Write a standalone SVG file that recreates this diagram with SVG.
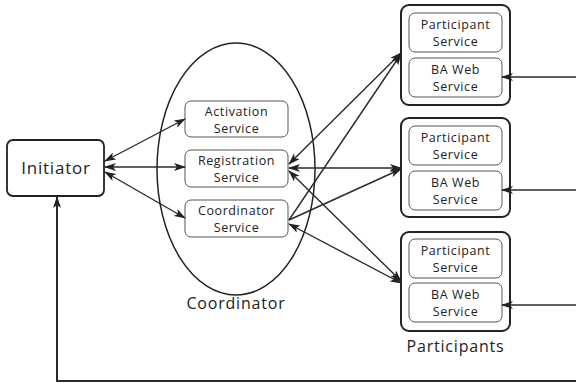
<svg xmlns="http://www.w3.org/2000/svg" width="576" height="387" viewBox="0 0 576 387">
<style>
text{font-family:"Open Sans","Liberation Sans",sans-serif;fill:#222;text-anchor:middle}
.big{font-size:16px;letter-spacing:0.8px}
.sm{font-size:12.5px;letter-spacing:0.6px}
.outer{fill:#fff;stroke:#222;stroke-width:2}
.inner{fill:#fff;stroke:#555;stroke-width:1}
.ln{fill:none;stroke:#2a2a2a;stroke-width:1.4}
</style>
<defs>
<marker id="ah" viewBox="0 0 12 8" refX="11" refY="4" markerWidth="12" markerHeight="8" markerUnits="userSpaceOnUse" orient="auto-start-reverse">
<path d="M0,0 L12,4 L0,8 L3,4 z" fill="#222"/>
</marker>
</defs>
<rect width="576" height="387" fill="#fff"/>
<g id="coordinator">
<ellipse cx="236" cy="169" rx="79" ry="126" fill="none" stroke="#222" stroke-width="1.5"/>
<text class="big" x="236" y="309">Coordinator</text>
</g>
<g id="initiator">
<rect class="outer" x="7" y="140" width="97" height="56" rx="6" style="stroke-width:1.8"/>
<text x="56" y="174" style="font-size:17px;letter-spacing:0.8px">Initiator</text>
</g>
<g id="activation">
<rect class="inner" x="185" y="101" width="103" height="36" rx="6"/>
<text class="sm" x="236.5" y="116">Activation</text>
<text class="sm" x="236.5" y="133">Service</text>
</g>
<g id="registration">
<rect class="inner" x="185" y="150" width="103" height="37" rx="6"/>
<text class="sm" x="236.5" y="165">Registration</text>
<text class="sm" x="236.5" y="182">Service</text>
</g>
<g id="coordsvc">
<rect class="inner" x="185" y="200" width="103" height="37" rx="6"/>
<text class="sm" x="236.5" y="215">Coordinator</text>
<text class="sm" x="236.5" y="232">Service</text>
</g>
<g id="participant1">
<rect class="outer" x="401" y="5" width="109" height="100" rx="8"/>
<rect class="inner" x="409" y="13" width="93" height="39" rx="6"/>
<text class="sm" x="455.5" y="29">Participant</text>
<text class="sm" x="455.5" y="46">Service</text>
<rect class="inner" x="409" y="58" width="93" height="39" rx="6"/>
<text class="sm" x="455.5" y="74">BA Web</text>
<text class="sm" x="455.5" y="91">Service</text>
</g>
<g id="participant2">
<rect class="outer" x="401" y="118" width="109" height="99" rx="8"/>
<rect class="inner" x="409" y="126" width="93" height="39" rx="6"/>
<text class="sm" x="455.5" y="142">Participant</text>
<text class="sm" x="455.5" y="159">Service</text>
<rect class="inner" x="409" y="171" width="93" height="39" rx="6"/>
<text class="sm" x="455.5" y="187">BA Web</text>
<text class="sm" x="455.5" y="204">Service</text>
</g>
<g id="participant3">
<rect class="outer" x="401" y="232" width="109" height="99" rx="8"/>
<rect class="inner" x="409" y="239" width="93" height="39" rx="6"/>
<text class="sm" x="455.5" y="255">Participant</text>
<text class="sm" x="455.5" y="272">Service</text>
<rect class="inner" x="409" y="283" width="93" height="39" rx="6"/>
<text class="sm" x="455.5" y="299">BA Web</text>
<text class="sm" x="455.5" y="316">Service</text>
<text class="big" x="455.5" y="352">Participants</text>
</g>
<g id="connectors">
<line class="ln" x1="105" y1="161" x2="185" y2="119" marker-start="url(#ah)" marker-end="url(#ah)"/>
<line class="ln" x1="105" y1="167" x2="185" y2="167" marker-start="url(#ah)" marker-end="url(#ah)"/>
<line class="ln" x1="105" y1="172" x2="185" y2="218" marker-start="url(#ah)" marker-end="url(#ah)"/>
<line class="ln" x1="289" y1="164" x2="401" y2="53" marker-start="url(#ah)" marker-end="url(#ah)"/>
<line class="ln" x1="289" y1="168" x2="401" y2="168" marker-start="url(#ah)" marker-end="url(#ah)"/>
<line class="ln" x1="289" y1="171" x2="401" y2="281" marker-start="url(#ah)" marker-end="url(#ah)"/>
<line class="ln" x1="289" y1="220" x2="401" y2="54" marker-end="url(#ah)"/>
<line class="ln" x1="289" y1="220" x2="401" y2="169" marker-end="url(#ah)"/>
<line class="ln" x1="289" y1="224" x2="401" y2="283" marker-start="url(#ah)" marker-end="url(#ah)"/>
<line class="ln" x1="576" y1="77" x2="502" y2="77" marker-end="url(#ah)"/>
<line class="ln" x1="576" y1="190" x2="502" y2="190" marker-end="url(#ah)"/>
<line class="ln" x1="576" y1="305" x2="502" y2="305" marker-end="url(#ah)"/>
<polyline fill="none" stroke="#2a2a2a" stroke-width="2" points="576,381 57,381 57,197" marker-end="url(#ah)"/>
</g>
</svg>
